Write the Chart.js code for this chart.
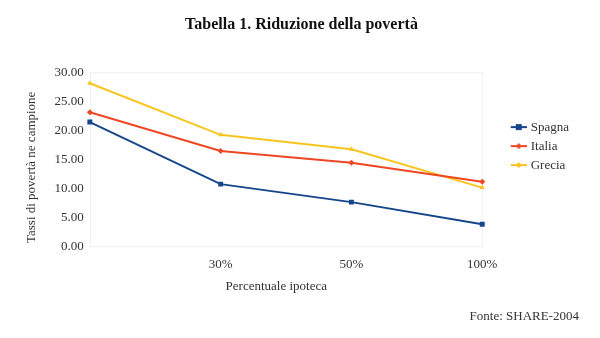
<!DOCTYPE html>
<html>
<head>
<meta charset="utf-8">
<script src="https://cdn.jsdelivr.net/npm/chart.js@4"></script>
<style>
  html, body { margin: 0; padding: 0; background: #fff; }
  #wrap { width: 600px; height: 338px; }
</style>
</head>
<body>
<div id="wrap"><canvas id="chart"></canvas></div>
<script>
const categories = ['', '30%', '50%', '100%'];
const spagna = [21.4, 10.7, 7.6, 3.8];
const italia = [23.1, 16.4, 14.4, 11.1];
const grecia = [28.1, 19.2, 16.7, 10.1];
const yTicks = [0, 5, 10, 15, 20, 25, 30];

const serif = '"Liberation Serif", "DejaVu Serif", serif';

// legend marker: short line with the point marker on it, drawn at the right end
// of a wider transparent image so the legend sits further from the plot
function legendIcon(color, style) {
    const c = document.createElement('canvas');
    c.width = 41; c.height = 8;
    const ctx = c.getContext('2d');
    const x0 = 25;
    ctx.strokeStyle = color;
    ctx.lineWidth = 2;
    ctx.beginPath();
    ctx.moveTo(x0, 4); ctx.lineTo(x0 + 16, 4);
    ctx.stroke();
    ctx.fillStyle = color;
    if (style === 'rect') {
        ctx.fillRect(x0 + 5, 1, 6, 6);
    } else {
        ctx.beginPath();
        ctx.moveTo(x0 + 8, 1); ctx.lineTo(x0 + 11, 4); ctx.lineTo(x0 + 8, 7); ctx.lineTo(x0 + 5, 4);
        ctx.fill();
    }
    return c;
}

const plotFrame = {
    id: 'plotFrame',
    beforeDatasetsDraw(chart) {
        const a = chart.chartArea;
        const ctx = chart.ctx;
        ctx.save();
        ctx.strokeStyle = '#efefef';
        ctx.lineWidth = 1;
        ctx.strokeRect(a.left + 0.5, a.top + 0.5, a.right - a.left, a.bottom - a.top);
        ctx.restore();
    }
};

const series = [
    { label: 'Spagna', data: spagna, color: '#15468c', style: 'rect', radius: 3.5 },
    { label: 'Italia', data: italia, color: '#ef4623', style: 'rectRot', radius: 3 },
    { label: 'Grecia', data: grecia, color: '#f7c51e', style: 'triangle', radius: 3 }
];

new Chart(document.getElementById('chart'), {
    type: 'line',
    data: {
        labels: categories,
        datasets: series.map(s => ({
            label: s.label,
            data: s.data,
            borderColor: s.color,
            backgroundColor: s.color,
            borderWidth: 2,
            pointStyle: s.style,
            pointRadius: s.radius,
            pointBorderWidth: 0,
            tension: 0,
            fill: false
        }))
    },
    options: {
        responsive: true,
        maintainAspectRatio: false,
        animation: false,
        layout: { autoPadding: false, padding: { left: 24, right: 21, top: 0, bottom: 0 } },
        plugins: {
            title: {
                display: true,
                text: 'Tabella 1. Riduzione della povertà',
                color: '#111',
                font: { family: serif, size: 16, weight: 'bold' },
                padding: { top: 15, bottom: 38 }
            },
            subtitle: {
                display: true,
                position: 'bottom',
                align: 'end',
                text: 'Fonte: SHARE-2004',
                color: '#333',
                font: { family: serif, size: 13 },
                padding: { top: 14, bottom: 14 }
            },
            legend: {
                position: 'right',
                align: 'start',
                fullSize: false,
                title: { display: true, text: '', font: { size: 12 }, padding: 14 },
                labels: {
                    color: '#333',
                    font: { family: serif, size: 13 },
                    usePointStyle: true,
                    pointStyleWidth: 36,
                    padding: 6,
                    generateLabels() {
                        return series.map((s, i) => ({
                            text: s.label,
                            fillStyle: s.color,
                            strokeStyle: s.color,
                            pointStyle: legendIcon(s.color, s.style === 'rect' ? 'rect' : 'diamond'),
                            hidden: false,
                            datasetIndex: i,
                            fontColor: '#333'
                        }));
                    }
                }
            },
            tooltip: { enabled: false }
        },
        scales: {
            x: {
                offset: false,
                grid: { display: false, drawTicks: false, tickLength: 0 },
                border: { display: false },
                ticks: { color: '#333', font: { family: serif, size: 13 }, padding: 11, maxRotation: 0 },
                title: {
                    display: true,
                    // trailing spaces nudge the centred title left, as in the original
                    text: 'Percentuale ipoteca      ',
                    color: '#333',
                    font: { family: serif, size: 13 },
                    padding: { top: -5, bottom: 0 }
                }
            },
            y: {
                min: 0,
                max: 30,
                afterBuildTicks(axis) {
                    axis.ticks = yTicks.map(v => ({ value: v }));
                },
                grid: { display: false, drawTicks: false, tickLength: 0 },
                border: { display: false },
                ticks: {
                    color: '#333',
                    font: { family: serif, size: 13 },
                    padding: 6,
                    callback: v => Number(v).toFixed(2)
                },
                title: {
                    display: true,
                    text: 'Tassi di povertà ne campione     ',
                    color: '#333',
                    font: { family: serif, size: 13 },
                    padding: { top: 0, bottom: 9 }
                }
            }
        }
    },
    plugins: [plotFrame]
});
</script>
</body>
</html>
